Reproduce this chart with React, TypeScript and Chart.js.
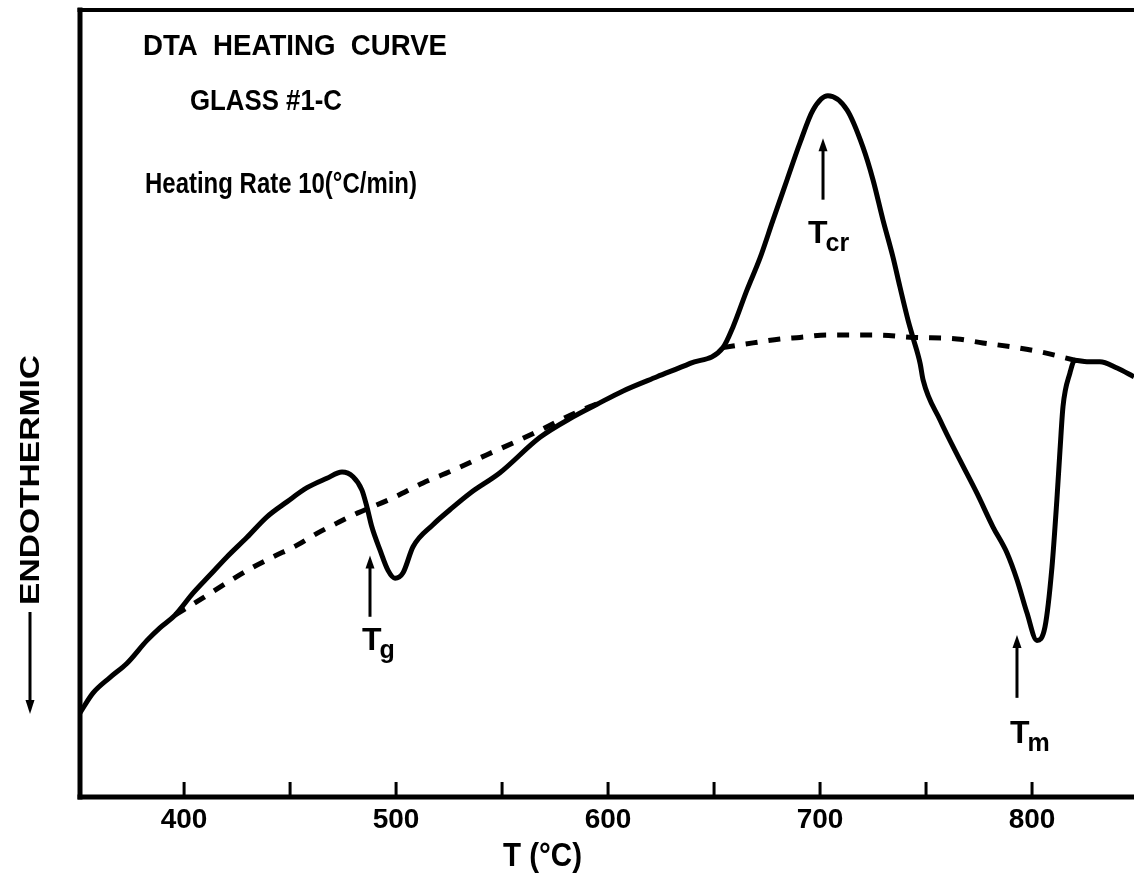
import React, { useEffect, useRef } from 'react';
import { Chart, registerables } from 'chart.js';

Chart.register(...registerables);

// ---- data (T in °C, signal in arbitrary units) ----
const solidT = [350.9, 357.0, 365.1, 373.1, 382.5, 388.6, 395.7, 404.2, 412.2, 420.2, 429.7, 439.1, 448.5, 458.0, 467.4, 474.5, 479.7, 483.9, 486.3, 488.6, 492.4, 496.2, 499.5, 503.3, 508.0, 517.4, 525.4, 534.9, 549.0, 567.9, 583.5, 594.8, 607.1, 623.1, 638.7, 654.2, 658.9, 665.5, 671.7, 677.8, 684.4, 690.5, 696.7, 703.7, 712.7, 720.2, 725.0, 729.7, 734.4, 737.7, 741.5, 743.8, 747.2, 748.6, 756.6, 766.0, 774.0, 781.6, 788.2, 792.9, 797.6, 802.3, 806.1, 809.4, 811.7, 813.2, 814.6, 817.9, 820.2, 825.9, 832.0, 840.1, 848.1];
const solidV = [10.7, 13.2, 15.2, 17.0, 19.9, 21.5, 23.1, 25.9, 28.2, 30.5, 33.0, 35.6, 37.5, 39.3, 40.5, 41.3, 40.7, 39.0, 36.8, 34.3, 31.4, 28.8, 27.8, 28.5, 31.8, 34.6, 36.5, 38.6, 41.2, 45.7, 48.3, 49.9, 51.6, 53.4, 55.1, 57.1, 59.7, 64.4, 68.5, 73.3, 78.4, 83.1, 87.3, 89.1, 87.3, 82.6, 78.4, 73.3, 68.6, 64.8, 60.6, 58.4, 55.1, 53.0, 47.9, 42.8, 38.6, 34.3, 31.0, 27.6, 23.4, 19.9, 21.6, 29.2, 37.7, 44.1, 49.6, 53.9, 55.5, 55.3, 55.3, 54.5, 53.4];

const baseT = [395.7, 408.9, 420.7, 432.5, 441.9, 453.3, 462.7, 472.1, 482.0, 498.5, 512.7, 526.8, 542.9, 556.1, 567.9, 579.7, 591.5, 596.2, 625.0, 654.2, 668.4, 681.1, 690.5, 703.3, 714.1, 726.8, 743.8, 764.6, 776.8, 792.9, 805.1, 820.2];
const baseV: (number | null)[] = [23.1, 25.3, 27.3, 29.2, 30.5, 32.0, 33.5, 34.8, 36.1, 38.0, 39.9, 41.5, 43.5, 45.1, 46.6, 48.2, 49.6, 50.1, null, 57.1, 57.7, 58.2, 58.4, 58.7, 58.7, 58.7, 58.4, 58.2, 57.7, 57.1, 56.5, 55.5];

const tickValues = [400, 450, 500, 550, 600, 650, 700, 750, 800];
const tickLabels = ['400', '', '500', '', '600', '', '700', '', '800'];

const X_MIN = 350.9;
const X_MAX = 848.1;
const Y_MIN = 0;
const Y_MAX = 100;

const titleLines = ['DTA  HEATING  CURVE', 'GLASS #1-C', 'Heating Rate 10(°C/min)'];
const xTitle = 'T (°C)';
const yTitle = 'ENDOTHERMIC';

// annotation markers: arrow at temperature, from vBottom up to vTop; label baseline
const markerMain = ['T', 'T', 'T'];
const markerSub = ['g', 'cr', 'm'];
const markerT = [487.7, 701.4, 792.9];
const markerTop = [30.7, 83.7, 20.6];
const markerBottom = [22.9, 75.9, 12.6];
const markerLabelT = [483.9, 694.3, 789.6];
const markerLabelV = [18.7, 70.4, 6.9];

const FONT = '"Liberation Sans", "DejaVu Sans", Arial, sans-serif';

function fitText(ctx: CanvasRenderingContext2D, text: string, x: number, y: number, w: number, size: number) {
  ctx.save();
  ctx.font = `bold ${size}px ${FONT}`;
  const m = ctx.measureText(text).width;
  ctx.translate(x, y);
  ctx.scale(w / m, 1);
  ctx.textAlign = 'left';
  ctx.textBaseline = 'middle';
  ctx.fillText(text, 0, 0);
  ctx.restore();
}

function arrowUp(ctx: CanvasRenderingContext2D, x: number, yTop: number, yBottom: number) {
  ctx.beginPath();
  ctx.lineWidth = 3;
  ctx.moveTo(x, yBottom);
  ctx.lineTo(x, yTop + 8);
  ctx.stroke();
  ctx.beginPath();
  ctx.moveTo(x, yTop);
  ctx.lineTo(x - 4.5, yTop + 13);
  ctx.lineTo(x + 4.5, yTop + 13);
  ctx.closePath();
  ctx.fill();
}

const decor = {
  id: 'decor',
  beforeDraw(chart: any) {
    const { ctx, width, height } = chart;
    ctx.save();
    ctx.fillStyle = '#fff';
    ctx.fillRect(0, 0, width, height);
    ctx.restore();
  },
  afterDraw(chart: any) {
    const { ctx, chartArea: a, scales } = chart;
    const xs = scales.x;
    const ys = scales.y;
    ctx.save();
    ctx.strokeStyle = '#000';
    ctx.fillStyle = '#000';
    // frame
    ctx.lineWidth = 5;
    ctx.beginPath();
    ctx.moveTo(a.left, a.bottom + 2.5);
    ctx.lineTo(a.left, a.top - 2.5);
    ctx.stroke();
    ctx.beginPath();
    ctx.lineWidth = 4;
    ctx.moveTo(a.left - 2.5, a.top);
    ctx.lineTo(a.right, a.top);
    ctx.stroke();
    ctx.beginPath();
    ctx.lineWidth = 5;
    ctx.moveTo(a.left - 2.5, a.bottom);
    ctx.lineTo(a.right, a.bottom);
    ctx.stroke();
    // inward ticks
    ctx.lineWidth = 3;
    tickValues.forEach((v) => {
      const px = xs.getPixelForValue(v);
      ctx.beginPath();
      ctx.moveTo(px, a.bottom);
      ctx.lineTo(px, a.bottom - 15);
      ctx.stroke();
    });
    // title block
    fitText(ctx, titleLines[0], 143, 47, 304, 29);
    fitText(ctx, titleLines[1], 190, 102, 152, 29);
    fitText(ctx, titleLines[2], 145, 185, 272, 29);
    // x title
    fitText(ctx, xTitle, 503, 857, 79, 34);
    // y title (rotated)
    ctx.save();
    ctx.translate(31, 480);
    ctx.rotate(-Math.PI / 2);
    ctx.font = `bold 28px ${FONT}`;
    const m = ctx.measureText(yTitle).width;
    ctx.scale(250 / m, 1);
    ctx.textAlign = 'center';
    ctx.textBaseline = 'middle';
    ctx.fillText(yTitle, 0, 0);
    ctx.restore();
    // y-title arrow pointing down
    ctx.beginPath();
    ctx.lineWidth = 3;
    ctx.moveTo(30, 612);
    ctx.lineTo(30, 700);
    ctx.stroke();
    ctx.beginPath();
    ctx.moveTo(30, 714);
    ctx.lineTo(25.5, 700);
    ctx.lineTo(34.5, 700);
    ctx.closePath();
    ctx.fill();
    // markers
    markerT.forEach((t, i) => {
      const px = xs.getPixelForValue(t);
      arrowUp(ctx, px, ys.getPixelForValue(markerTop[i]), ys.getPixelForValue(markerBottom[i]));
      const lx = xs.getPixelForValue(markerLabelT[i]);
      const ly = ys.getPixelForValue(markerLabelV[i]);
      ctx.font = `bold 32px ${FONT}`;
      ctx.textAlign = 'left';
      ctx.textBaseline = 'alphabetic';
      ctx.fillText(markerMain[i], lx, ly);
      const w = ctx.measureText(markerMain[i]).width;
      ctx.font = `bold 25px ${FONT}`;
      ctx.fillText(markerSub[i], lx + w - 2, ly + 8);
    });
    ctx.restore();
  },
};

export default function App() {
  const ref = useRef<HTMLCanvasElement>(null);
  useEffect(() => {
    const canvas = ref.current;
    if (!canvas) return;
    const solidData = solidT.map((t, i) => ({ x: t, y: solidV[i] }));
    const baseData = baseT.map((t, i) => ({ x: t, y: baseV[i] }));
    const chart = new Chart(canvas, {
      type: 'line',
      data: {
        datasets: [
          {
            data: baseData as any,
            borderColor: '#000',
            borderWidth: 5,
            borderDash: [12, 11],
            pointRadius: 0,
            cubicInterpolationMode: 'monotone',
            spanGaps: false,
            fill: false,
            order: 2,
          },
          {
            data: solidData,
            borderColor: '#000',
            borderWidth: 5,
            pointRadius: 0,
            cubicInterpolationMode: 'monotone',
            fill: false,
            order: 1,
          },
        ],
      },
      options: {
        responsive: false,
        animation: false,
        events: [],
        layout: { padding: { left: 80, top: 10, right: 0, bottom: 0 } },
        plugins: { legend: { display: false }, tooltip: { enabled: false } },
        scales: {
          x: {
            type: 'linear',
            min: X_MIN,
            max: X_MAX,
            grid: { display: false },
            border: { display: false },
            afterBuildTicks: (s: any) => {
              s.ticks = tickValues.map((v) => ({ value: v }));
            },
            afterFit: (s: any) => {
              s.height = 83;
            },
            ticks: {
              autoSkip: false,
              maxRotation: 0,
              padding: -2,
              color: '#000',
              font: { family: FONT, size: 28, weight: 'bold' },
              callback: (v: any) => tickLabels[tickValues.indexOf(Number(v))] ?? '',
            },
          },
          y: { display: false, min: Y_MIN, max: Y_MAX },
        },
      },
      plugins: [decor],
    });
    return () => chart.destroy();
  }, []);
  return (
    <div style={{ position: 'fixed', left: 0, top: 0, width: 1134, height: 880, background: '#fff' }}>
      <canvas ref={ref} width={1134} height={880} style={{ display: 'block' }} />
    </div>
  );
}
